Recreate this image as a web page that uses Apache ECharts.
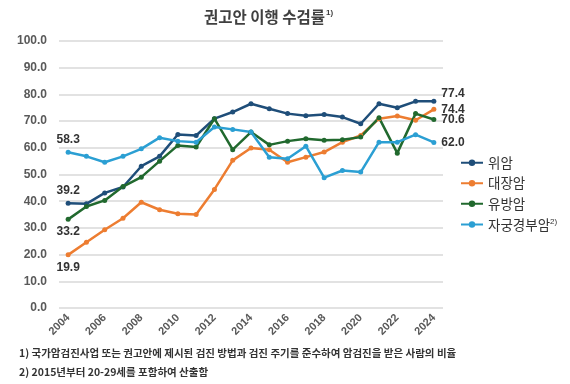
<!DOCTYPE html>
<html><head><meta charset="utf-8">
<script src="https://cdn.jsdelivr.net/npm/echarts@6/dist/echarts.min.js"></script>
<style>html,body{margin:0;padding:0;background:#fff}#c{width:570px;height:384px}</style>
</head><body><div id="c"></div>
<script>
var years = ['2004','2005','2006','2007','2008','2009','2010','2011','2012','2013','2014','2015','2016','2017','2018','2019','2020','2021','2022','2023','2024'];
var seriesNames = ['위암','대장암','유방암','자궁경부암'];
var stomach    = [39.2, 39.0, 43.1, 45.3, 53.1, 56.8, 65.0, 64.6, 70.9, 73.4, 76.5, 74.6, 72.8, 72.0, 72.5, 71.5, 69.0, 76.5, 75.0, 77.4, 77.4];
var colorectal = [19.9, 24.6, 29.3, 33.6, 39.6, 36.8, 35.3, 35.0, 44.4, 55.3, 59.9, 59.3, 54.6, 56.5, 58.4, 62.1, 64.6, 70.9, 71.9, 70.3, 74.4];
var breast     = [33.2, 38.0, 40.3, 45.5, 49.0, 55.0, 60.9, 60.3, 70.9, 59.3, 65.9, 61.1, 62.5, 63.4, 62.8, 63.0, 64.0, 71.3, 58.0, 72.8, 70.6];
var cervical   = [58.3, 56.8, 54.6, 56.8, 59.6, 63.8, 62.5, 62.1, 67.8, 66.9, 65.9, 56.5, 55.9, 60.6, 48.8, 51.5, 50.9, 62.1, 62.1, 64.9, 62.0];
var colors = ['#1f4e79', '#ed7d31', '#21692e', '#2b9fd3'];
var startPos = ['top', 'bottom', 'bottom', 'top'];

var FONT = "'Liberation Sans','Noto Sans CJK KR',sans-serif";
var KFONT = "'Noto Sans CJK KR',sans-serif";
var lblStyle = {color:'#333333', fontWeight:'bold', fontSize:12, fontFamily:FONT};

function build(values, idx) {
  return values.map(function(v, i){
    if (i === 0) return {value:v, label:Object.assign({show:true, position:startPos[idx], distance:4, formatter:function(p){return p.value.toFixed(1);}}, lblStyle)};
    if (i === values.length-1) return {value:v, label:Object.assign({show:true, position:'right', distance:5, formatter:function(p){return p.value.toFixed(1);}}, lblStyle)};
    return v;
  });
}
var allData = [stomach, colorectal, breast, cervical];
var series = allData.map(function(d, k){
  return {
    name: seriesNames[k], type:'line', data: build(d, k),
    symbol:'circle', symbolSize:5, showSymbol:true,
    lineStyle:{width:2.5, color:colors[k]},
    itemStyle:{color:colors[k]},
    emphasis:{disabled:true},
    animation:false
  };
});
series[0].data[20].label.offset = [0,-8];

var chart = echarts.init(document.getElementById('c'), null, {renderer:'canvas'});
chart.setOption({
  animation:false,
  color: colors,
  title: {
    text: '{a|권고안 이행 수검률}{b|1)}',
    left: 199, top: 4,
    textStyle: {
      rich: {
        a: {fontSize:15.5, fontWeight:'bold', color:'#404040', fontFamily:KFONT},
        b: {fontSize:8, fontWeight:'bold', color:'#404040', fontFamily:FONT, verticalAlign:'top', padding:[0,0,6,1]}
      }
    }
  },
  legend: {
    orient:'vertical', left:455, top:151, itemGap:7, itemWidth:22, itemHeight:8,
    data: seriesNames,
    textStyle:{fontSize:13.5, color:'#333333', fontFamily:KFONT,
      rich:{n:{fontSize:13.5, color:'#333333', fontFamily:KFONT}, s:{fontSize:8, color:'#333333', fontFamily:FONT, verticalAlign:'top', padding:[0,0,6,0]}}},
    formatter: function(n){ return n === '자궁경부암' ? '{n|자궁경부암}{s|2)}' : n; }
  },
  grid: {left:59, right:127, top:41, bottom:76},
  xAxis: {
    type:'category', data: years, boundaryGap:true,
    axisLine:{show:false}, axisTick:{show:false},
    axisLabel:{interval:1, rotate:45, color:'#595959', fontWeight:'bold', fontSize:11, fontFamily:FONT, margin:8}
  },
  yAxis: {
    type:'value', min:0, max:100, interval:10,
    axisLine:{show:false}, axisTick:{show:false},
    splitLine:{lineStyle:{color:'#d9d9d9', width:1.5}},
    axisLabel:{color:'#595959', fontWeight:'bold', fontSize:12, fontFamily:FONT, margin:12, formatter:function(v){return v.toFixed(1);}}
  },
  graphic: [
    {type:'text', left:19, top:348, style:{text:'1) 국가암검진사업 또는 권고안에 제시된 검진 방법과 검진 주기를 준수하여 암검진을 받은 사람의 비율', fontSize:10.5, fontWeight:'bold', fill:'#333333', fontFamily:KFONT}},
    {type:'text', left:19, top:367, style:{text:'2) 2015년부터 20-29세를 포함하여 산출함', fontSize:10.5, fontWeight:'bold', fill:'#333333', fontFamily:KFONT}}
  ],
  series: series
});
</script></body></html>
